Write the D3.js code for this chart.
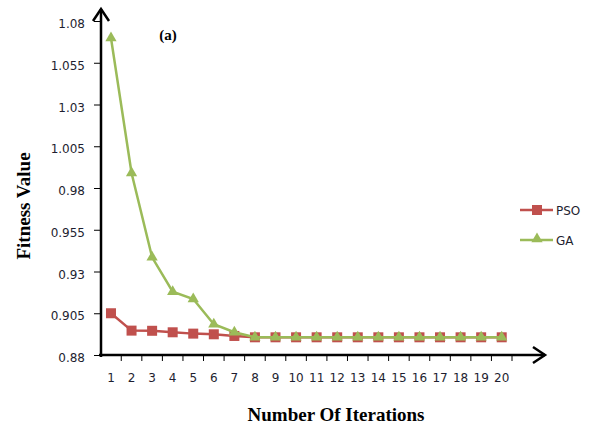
<!DOCTYPE html>
<html><head><meta charset="utf-8">
<script src="https://cdn.jsdelivr.net/npm/d3@7"></script>
<style>body{margin:0;background:#fff}svg{display:block}</style>
</head><body>
<script>
const iterations = d3.range(1, 21);
const psoValues = [0.905, 0.8946, 0.8945, 0.8936, 0.8928, 0.8924, 0.8914, 0.8906, 0.8906, 0.8906, 0.8906, 0.8906, 0.8906, 0.8906, 0.8906, 0.8906, 0.8906, 0.8906, 0.8906, 0.8906];
const gaValues = [1.0698, 0.989, 0.9385, 0.9179, 0.9135, 0.8984, 0.8936, 0.8906, 0.8906, 0.8906, 0.8906, 0.8906, 0.8906, 0.8906, 0.8906, 0.8906, 0.8906, 0.8906, 0.8906, 0.8906];
const yTicks = [0.88, 0.905, 0.93, 0.955, 0.98, 1.005, 1.03, 1.055, 1.08];
const seriesNames = ["PSO", "GA"];

const W = 589, H = 429;
const svg = d3.select("body").append("svg").attr("width", W).attr("height", H);
const x = d3.scaleBand().domain(iterations).range([100.7, 512]);
const y = d3.scaleLinear().domain([0.88, 1.08]).range([355, 21]);
const colors = {PSO: "#C0504D", GA: "#9BBB59"};
const tickFont = "'DejaVu Sans', 'Liberation Sans', sans-serif";
const tickColor = "#1e1e30";

// y axis ticks
const ya = svg.append("g").attr("transform", "translate(101,0)")
  .call(d3.axisLeft(y).tickValues(yTicks).tickSize(7).tickPadding(9).tickFormat(d => String(+d.toFixed(3))));
ya.select(".domain").remove();
ya.selectAll("line").attr("stroke", "#000").attr("stroke-width", 1);
ya.selectAll("text").attr("font-family", tickFont).attr("font-size", 12).attr("fill", tickColor).attr("dy", "0.55em");

// x axis ticks
const xa = svg.append("g").attr("transform", "translate(0,355)")
  .call(d3.axisBottom(x).tickSize(0).tickPadding(18));
xa.select(".domain").remove();
xa.selectAll("text").attr("font-family", tickFont).attr("font-size", 12).attr("fill", tickColor);
svg.append("g").selectAll("line").data(iterations).join("line")
  .attr("x1", d => x(d) + x.bandwidth()).attr("x2", d => x(d) + x.bandwidth())
  .attr("y1", 355).attr("y2", 361).attr("stroke", "#000").attr("stroke-width", 1);

// axis lines with arrows
svg.append("line").attr("x1", 101).attr("y1", 357).attr("x2", 101).attr("y2", 9).attr("stroke", "#000").attr("stroke-width", 2.5);
svg.append("line").attr("x1", 99).attr("y1", 355).attr("x2", 545).attr("y2", 355).attr("stroke", "#000").attr("stroke-width", 2.5);
svg.append("path").attr("d", "M93,21 L101,9 L109,21").attr("fill", "none").attr("stroke", "#000").attr("stroke-width", 2.5);
svg.append("path").attr("d", "M533,347 L545,355 L533,363").attr("fill", "none").attr("stroke", "#000").attr("stroke-width", 2.5);

const cx = d => x(d) + x.bandwidth() / 2;
const line = d3.line().x((v, i) => cx(iterations[i])).y(v => y(v));

// PSO
svg.append("path").datum(psoValues).attr("d", line).attr("fill", "none").attr("stroke", colors.PSO).attr("stroke-width", 2.5);
svg.append("g").selectAll("rect").data(psoValues).join("rect")
  .attr("x", (v, i) => cx(iterations[i]) - 5).attr("y", v => y(v) - 5).attr("width", 10).attr("height", 10)
  .attr("fill", colors.PSO);
// GA
svg.append("path").datum(gaValues).attr("d", line).attr("fill", "none").attr("stroke", colors.GA).attr("stroke-width", 2.5);
const tri = d3.symbol().type(d3.symbolTriangle).size(55);
svg.append("g").selectAll("path").data(gaValues).join("path")
  .attr("d", tri).attr("transform", (v, i) => `translate(${cx(iterations[i])},${y(v)})`)
  .attr("fill", colors.GA);

// legend
const lg = svg.append("g");
seriesNames.forEach((name, i) => {
  const ly = 210 + i * 30;
  lg.append("line").attr("x1", 520).attr("x2", 553).attr("y1", ly).attr("y2", ly).attr("stroke", colors[name]).attr("stroke-width", 2.5);
  if (name === "PSO") lg.append("rect").attr("x", 532).attr("y", ly - 5).attr("width", 10).attr("height", 10).attr("fill", colors[name]);
  else lg.append("path").attr("d", tri).attr("transform", `translate(537,${ly - 1})`).attr("fill", colors[name]);
  lg.append("text").attr("x", 556).attr("y", ly + 4.5).text(name).attr("font-family", tickFont).attr("font-size", 12).attr("fill", tickColor);
});

// titles
const serif = "'Liberation Serif', 'DejaVu Serif', serif";
svg.append("text").attr("x", 168).attr("y", 40).attr("text-anchor", "middle").text("(a)")
  .attr("font-family", serif).attr("font-weight", "bold").attr("font-size", 15);
svg.append("text").attr("transform", "translate(30,206) rotate(-90)").attr("text-anchor", "middle").text("Fitness Value")
  .attr("font-family", serif).attr("font-weight", "bold").attr("font-size", 19);
svg.append("text").attr("x", 336).attr("y", 421).attr("text-anchor", "middle").text("Number Of Iterations")
  .attr("font-family", serif).attr("font-weight", "bold").attr("font-size", 19);
</script>
</body></html>
